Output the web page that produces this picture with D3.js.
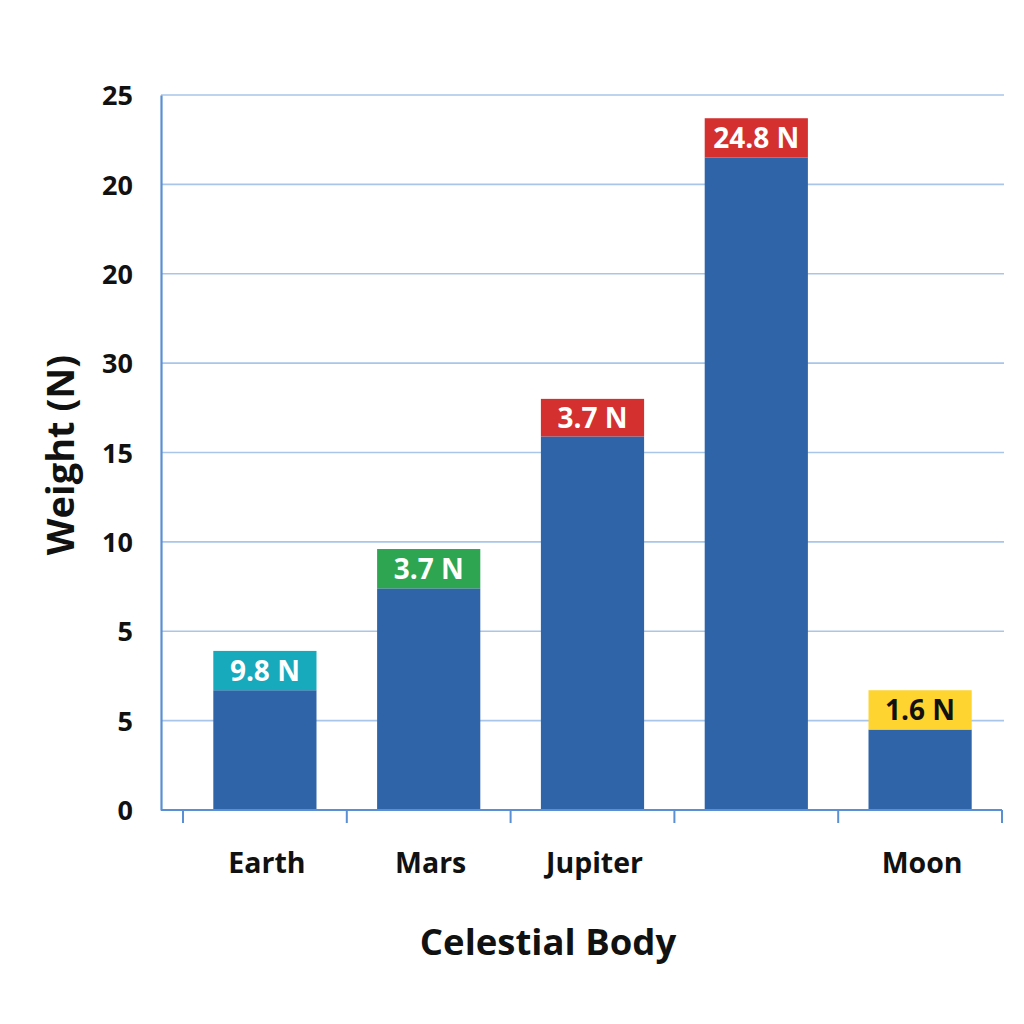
<!DOCTYPE html>
<html>
<head>
<meta charset="utf-8">
<script src="https://cdn.jsdelivr.net/npm/d3@7"></script>
<style>
  body { margin: 0; background: #fff; }
  text { font-family: "Open Sans", "DejaVu Sans", sans-serif; font-weight: 700; }
</style>
</head>
<body>
<div id="svgTarget"></div>
<script>
// data
const categories = ["Earth", "Mars", "Jupiter", "", "Moon"];
const barValues = [6.7, 12.4, 20.9, 36.5, 4.5];
const capValues = [2.2, 2.2, 2.1, 2.2, 2.2];
const capLabels = ["9.8 N", "3.7 N", "3.7 N", "24.8 N", "1.6 N"];
const capColors = ["#17A9BC", "#2EA651", "#D3302F", "#D3302F", "#FDD430"];
const capTextColors = ["#fff", "#fff", "#fff", "#fff", "#111"];
const tickValues = [0, 5, 10, 15, 20, 25, 30, 35, 40];
const tickLabels = ["0", "5", "5", "10", "15", "30", "20", "20", "25"];

const width = 1024, height = 1024;
const margin = { top: 95, right: 20, bottom: 214, left: 161 };

const svg = d3.select("#svgTarget")
  .append("svg")
    .attr("width", width)
    .attr("height", height);

const y = d3.scaleLinear()
  .domain([0, 40])
  .range([height - margin.bottom, margin.top]);

const x = d3.scaleBand()
  .domain(d3.range(categories.length))
  .range([183, 1002])
  .paddingInner(0.37)
  .paddingOuter(0.185);

// gridlines
svg.append("g")
  .selectAll("line")
  .data(tickValues.slice(1))
  .enter()
  .append("line")
    .attr("x1", margin.left)
    .attr("x2", 1004)
    .attr("y1", d => y(d))
    .attr("y2", d => y(d))
    .attr("stroke", "#A9C6E8")
    .attr("stroke-width", 1.6);

// y axis
const yAxis = d3.axisLeft(y)
  .tickValues(tickValues)
  .tickSize(0)
  .tickPadding(28)
  .tickFormat((d, i) => tickLabels[i]);
const yG = svg.append("g")
  .attr("transform", `translate(${margin.left}, 0)`)
  .call(yAxis);
yG.select(".domain").attr("stroke", "#5B8FD3").attr("stroke-width", 2.2);
yG.selectAll("text")
  .attr("font-size", 27)
  .attr("fill", "#111")
  .attr("dy", "0.36em");

// bars
const bars = svg.append("g")
  .selectAll("g")
  .data(categories)
  .enter()
  .append("g");

bars.append("rect")
  .attr("x", (d, i) => x(i))
  .attr("width", x.bandwidth())
  .attr("y", (d, i) => y(barValues[i]))
  .attr("height", (d, i) => y(0) - y(barValues[i]))
  .attr("fill", "#2F64A9");

bars.append("rect")
  .attr("x", (d, i) => x(i))
  .attr("width", x.bandwidth())
  .attr("y", (d, i) => y(barValues[i] + capValues[i]))
  .attr("height", (d, i) => y(barValues[i]) - y(barValues[i] + capValues[i]))
  .attr("fill", (d, i) => capColors[i]);

bars.append("text")
  .attr("x", (d, i) => x(i) + x.bandwidth() / 2)
  .attr("y", (d, i) => (y(barValues[i]) + y(barValues[i] + capValues[i])) / 2)
  .attr("dy", "0.36em")
  .attr("text-anchor", "middle")
  .attr("font-size", 28)
  .attr("fill", (d, i) => capTextColors[i])
  .text((d, i) => capLabels[i]);

// x axis line and tick marks
const xG = svg.append("g");
xG.append("line")
  .attr("x1", margin.left)
  .attr("x2", 1002)
  .attr("y1", y(0))
  .attr("y2", y(0))
  .attr("stroke", "#5B8FD3")
  .attr("stroke-width", 2.2);
xG.selectAll(".tick")
  .data(d3.range(categories.length + 1))
  .enter()
  .append("line")
    .attr("class", "tick")
    .attr("x1", i => x.range()[0] + i * x.step())
    .attr("x2", i => x.range()[0] + i * x.step())
    .attr("y1", y(0))
    .attr("y2", y(0) + 13)
    .attr("stroke", "#5B8FD3")
    .attr("stroke-width", 2);

xG.selectAll(".cat")
  .data(categories)
  .enter()
  .append("text")
    .attr("class", "cat")
    .attr("x", (d, i) => x(i) + x.bandwidth() / 2 + 2)
    .attr("y", 873)
    .attr("text-anchor", "middle")
    .attr("font-size", 28.5)
    .attr("fill", "#111")
    .text(d => d);

// labels
svg.append("text")
  .attr("x", 548)
  .attr("y", 955)
  .attr("text-anchor", "middle")
  .attr("font-size", 36.5)
  .attr("fill", "#111")
  .text("Celestial Body");

svg.append("text")
  .attr("transform", "translate(74, 455) rotate(-90)")
  .attr("text-anchor", "middle")
  .attr("font-size", 38)
  .attr("fill", "#111")
  .text("Weight (N)");
</script>
</body>
</html>
